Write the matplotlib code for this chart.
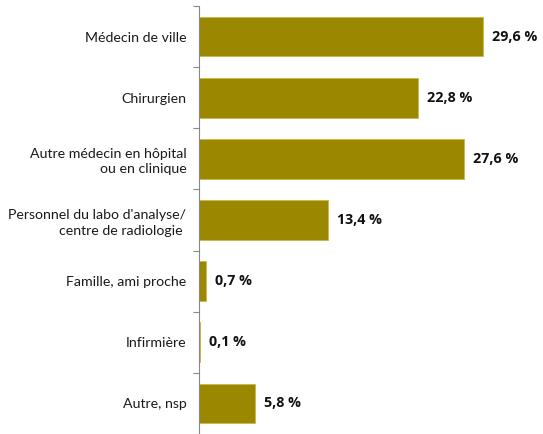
import matplotlib
matplotlib.use("Agg")
import matplotlib.pyplot as plt
import numpy as np

categories = ["Médecin de ville", "Chirurgien", "Autre médecin en hôpital\nou en clinique",
              "Personnel du labo d'analyse/\ncentre de radiologie ", "Famille, ami proche",
              "Infirmière", "Autre, nsp"]
values = [29.6, 22.8, 27.6, 13.4, 0.7, 0.1, 5.8]
value_labels = ["29,6 %", "22,8 %", "27,6 %", "13,4 %", "0,7 %", "0,1 %", "5,8 %"]

W, H = 543, 434
fig = plt.figure(figsize=(W/100, H/100), dpi=100)
left = 199 / W
top = 1 - 6 / H
ax = fig.add_axes([left, 0, 1 - left, top])

y = np.arange(len(categories))
color = "#9B8700"
ax.barh(y, values, height=0.65, color=color, edgecolor="#C8B94A", linewidth=0.6)
ax.set_ylim(len(categories) - 0.5, -0.5)
ax.set_xlim(0, (W - 199) / 9.6)

for yi, v, lab in zip(y, values, value_labels):
    ax.annotate(lab, (v, yi), xytext=(6.5, 0), textcoords="offset points",
                va="center", ha="left", fontsize=10.3, fontweight="bold",
                family="Open Sans", color="#111111")

ax.set_yticks(y)
ax.set_yticklabels(categories, family="Lato", fontsize=10.2, color="#1a1a1a")
for t in ax.get_yticklabels():
    t.set_multialignment("right")
    t.set_linespacing(1.35)
ax.tick_params(axis="y", which="major", length=0, pad=9)
ax.set_yticks(np.arange(-0.5, len(categories), 1), minor=True)
ax.tick_params(axis="y", which="minor", length=4, width=0.8, color="#888888", direction="out")
ax.set_xticks([])
for s in ["top", "right", "bottom"]:
    ax.spines[s].set_visible(False)
ax.spines["left"].set_color("#888888")
ax.spines["left"].set_linewidth(0.8)

fig.savefig("out.png", dpi=100)
